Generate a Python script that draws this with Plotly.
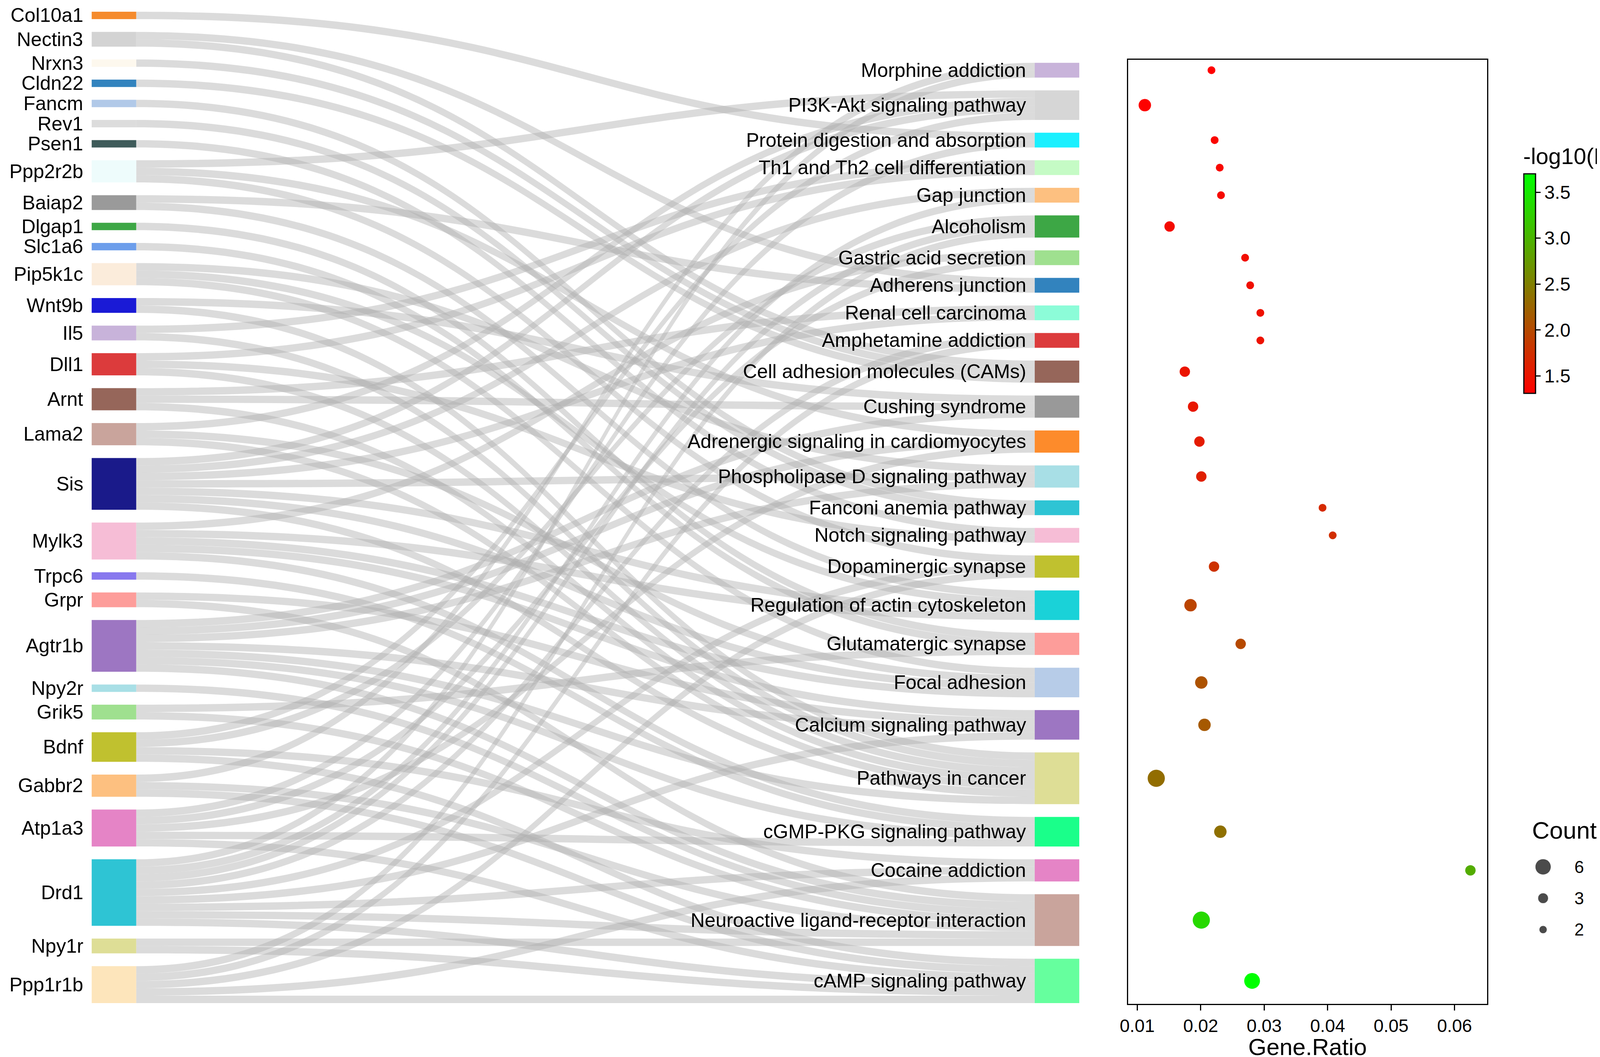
import plotly.graph_objects as go

# ---- data ----
genes = ['Col10a1', 'Nectin3', 'Nrxn3', 'Cldn22', 'Fancm', 'Rev1', 'Psen1', 'Ppp2r2b',
         'Baiap2', 'Dlgap1', 'Slc1a6', 'Pip5k1c', 'Wnt9b', 'Il5', 'Dll1', 'Arnt', 'Lama2',
         'Sis', 'Mylk3', 'Trpc6', 'Grpr', 'Agtr1b', 'Npy2r', 'Grik5', 'Bdnf', 'Gabbr2',
         'Atp1a3', 'Drd1', 'Npy1r', 'Ppp1r1b']
gene_colors = ['#f58b2d', '#d3d3d3', '#fdf8ee', '#3283be', '#b1c9e8', '#dcdcdc', '#3e5b5a', '#eefcfc',
               '#9a9a9a', '#3da745', '#6d9eeb', '#fbecdb', '#1a1ad6', '#c8b3da', '#dc3b3c', '#96665a',
               '#c9a49c', '#1a1a8a', '#f6bdd6', '#8878ee', '#fd9d9a', '#9d76c2', '#a8dfe6', '#9fe08f',
               '#c0c12f', '#fdc080', '#e584c6', '#2ec4d4', '#dede96', '#fde5bb']

pathways = ['Morphine addiction', 'PI3K-Akt signaling pathway', 'Protein digestion and absorption',
            'Th1 and Th2 cell differentiation', 'Gap junction', 'Alcoholism', 'Gastric acid secretion',
            'Adherens junction', 'Renal cell carcinoma', 'Amphetamine addiction',
            'Cell adhesion molecules (CAMs)', 'Cushing syndrome', 'Adrenergic signaling in cardiomyocytes',
            'Phospholipase D signaling pathway', 'Fanconi anemia pathway', 'Notch signaling pathway',
            'Dopaminergic synapse', 'Regulation of actin cytoskeleton', 'Glutamatergic synapse',
            'Focal adhesion', 'Calcium signaling pathway', 'Pathways in cancer',
            'cGMP-PKG signaling pathway', 'Cocaine addiction', 'Neuroactive ligand-receptor interaction',
            'cAMP signaling pathway']
pathway_colors = ['#c8b3da', '#d6d6d6', '#1af0ff', '#c5fbc5', '#fdc080', '#3da745', '#9fe08f',
                  '#3283be', '#8cfcd8', '#dc3b3c', '#96665a', '#999999', '#fd8b2b', '#a8dfe6',
                  '#2ec4d4', '#f6bdd6', '#c0c12f', '#1ad2d8', '#fd9d9a', '#b7cce8', '#9d76c2',
                  '#dede96', '#1aff8a', '#e584c6', '#c9a49c', '#66ff9e']

gene_ratio = [0.0217, 0.0112, 0.0222, 0.0230, 0.0232, 0.0151, 0.0270, 0.0278, 0.0294, 0.0294,
              0.0175, 0.0188, 0.0198, 0.0201, 0.0392, 0.0408, 0.0221, 0.0184, 0.0263, 0.0201,
              0.0206, 0.0130, 0.0231, 0.0625, 0.0201, 0.0281]
neg_log10_p = [1.31, 1.33, 1.36, 1.38, 1.39, 1.41, 1.43, 1.45, 1.47, 1.48,
               1.50, 1.53, 1.56, 1.60, 1.70, 1.74, 1.78, 1.95, 1.99, 2.08,
               2.14, 2.33, 2.36, 2.92, 3.34, 3.70]

# genes mapped to each pathway (same order as pathways)
pathway_genes = [
    ['Gabbr2', 'Drd1'],
    ['Ppp2r2b', 'Lama2', 'Sis', 'Bdnf'],
    ['Col10a1', 'Atp1a3'],
    ['Il5', 'Dll1'],
    ['Sis', 'Drd1'],
    ['Bdnf', 'Drd1', 'Ppp1r1b'],
    ['Mylk3', 'Atp1a3'],
    ['Nectin3', 'Baiap2'],
    ['Arnt', 'Sis'],
    ['Drd1', 'Ppp1r1b'],
    ['Nectin3', 'Nrxn3', 'Cldn22'],
    ['Wnt9b', 'Arnt', 'Agtr1b'],
    ['Ppp2r2b', 'Agtr1b', 'Atp1a3'],
    ['Pip5k1c', 'Sis', 'Agtr1b'],
    ['Fancm', 'Rev1'],
    ['Psen1', 'Dll1'],
    ['Ppp2r2b', 'Drd1', 'Ppp1r1b'],
    ['Baiap2', 'Pip5k1c', 'Sis', 'Mylk3'],
    ['Dlgap1', 'Slc1a6', 'Grik5'],
    ['Pip5k1c', 'Lama2', 'Sis', 'Mylk3'],
    ['Mylk3', 'Grpr', 'Agtr1b', 'Drd1'],
    ['Wnt9b', 'Il5', 'Dll1', 'Arnt', 'Lama2', 'Sis', 'Agtr1b'],
    ['Mylk3', 'Trpc6', 'Agtr1b', 'Atp1a3'],
    ['Bdnf', 'Drd1', 'Ppp1r1b'],
    ['Grpr', 'Agtr1b', 'Npy2r', 'Grik5', 'Gabbr2', 'Drd1', 'Npy1r'],
    ['Bdnf', 'Gabbr2', 'Atp1a3', 'Drd1', 'Npy1r', 'Ppp1r1b'],
]

count_legend = [6, 3, 2]
ratio_ticks = [0.01, 0.02, 0.03, 0.04, 0.05, 0.06]
p_ticks = [1.5, 2.0, 2.5, 3.0, 3.5]

# ---- layout (pixels of the 4317x2706 page) ----
W, H = 4317, 2706
SK_LEFT, SK_RIGHT, SK_TOP, SK_BOTTOM = 207, 2747, 22, 2560
NODE_W = 114
NODE_PAD = 32.7
BOX_L, BOX_R, BOX_T, BOX_B = 2873, 3796, 145, 2562
FONT = 'Liberation Sans, Arial, sans-serif'

src, tgt, val = [], [], []
for j, gl in enumerate(pathway_genes):
    for g in gl:
        src.append(genes.index(g))
        tgt.append(len(genes) + j)
        val.append(1)

gene_counts = [src.count(i) for i in range(len(genes))]
path_counts = [len(gl) for gl in pathway_genes]

span = SK_BOTTOM - SK_TOP
unit = (span - (len(genes) - 1) * NODE_PAD) / sum(gene_counts)


def centers(counts, start):
    out = []
    y = start
    for c in counts:
        out.append(y + c * unit / 2)
        y += c * unit + NODE_PAD
    return out


gene_y = centers(gene_counts, SK_TOP)
path_start = SK_BOTTOM - (sum(path_counts) * unit + (len(pathways) - 1) * NODE_PAD)
path_y = centers(path_counts, path_start)

sk_w = SK_RIGHT - SK_LEFT
node_x = [NODE_W / 2 / sk_w] * len(genes) + [1 - NODE_W / 2 / sk_w] * len(pathways)
node_y = [(y - SK_TOP) / span for y in gene_y + path_y]


def dot_size(c):
    return (400 + 307 * (c - 2)) ** 0.5


fig = go.Figure()

fig.add_trace(go.Sankey(
    domain=dict(x=[SK_LEFT / W, SK_RIGHT / W], y=[1 - SK_BOTTOM / H, 1 - SK_TOP / H]),
    arrangement='fixed',
    node=dict(
        label=[''] * (len(genes) + len(pathways)),
        customdata=genes + pathways,
        hovertemplate='%{customdata}<extra></extra>',
        color=gene_colors + pathway_colors,
        thickness=NODE_W,
        pad=NODE_PAD,
        line=dict(width=0),
        x=node_x,
        y=node_y,
    ),
    link=dict(source=src, target=tgt, value=val, color='rgba(175,175,175,0.45)'),
))

# node labels, drawn above the links
for name, y in zip(genes, gene_y):
    fig.add_annotation(text=name, x=(SK_LEFT - 20) / W, y=1 - y / H, xref='paper', yref='paper',
                       xanchor='right', yanchor='middle', showarrow=False,
                       font=dict(size=50, color='black', family=FONT))
for name, y in zip(pathways, path_y):
    fig.add_annotation(text=name, x=(SK_RIGHT - NODE_W - 20) / W, y=1 - y / H, xref='paper', yref='paper',
                       xanchor='right', yanchor='middle', showarrow=False,
                       font=dict(size=50, color='black', family=FONT))

# dot plot
fig.add_trace(go.Scatter(
    x=gene_ratio, y=path_y, mode='markers', text=pathways,
    marker=dict(
        size=[dot_size(c) for c in path_counts],
        color=neg_log10_p,
        colorscale=[[0, '#ff0000'], [1, '#00ff00']],
        cmin=min(neg_log10_p), cmax=max(neg_log10_p),
        line=dict(width=0),
        opacity=1,
        colorbar=dict(
            title=dict(text='-log10(Pvalue)', side='top', font=dict(size=58, family=FONT)),
            x=3891 / W, xanchor='left',
            y=1 - 999 / H, yanchor='bottom',
            len=632 / H, lenmode='fraction',
            thickness=30, thicknessmode='pixels',
            xpad=0, ypad=0,
            outlinewidth=3, outlinecolor='black',
            ticks='outside', ticklen=12, tickwidth=3, tickcolor='black',
            tickvals=p_ticks, ticktext=['%.1f' % v for v in p_ticks],
            tickfont=dict(size=48, family=FONT, color='black'),
        ),
    ),
    xaxis='x', yaxis='y'))

# size legend
fig.add_trace(go.Scatter(
    x=[0] * len(count_legend), y=[str(c) for c in count_legend], mode='markers',
    marker=dict(size=[dot_size(c) for c in count_legend], color='black'),
    xaxis='x3', yaxis='y3', hoverinfo='skip'))

fig.add_annotation(text='Count', x=3910 / W, y=1 - 2117 / H, xref='paper', yref='paper',
                   xanchor='left', yanchor='middle', showarrow=False,
                   font=dict(size=62, family=FONT, color='black'))

fig.update_layout(
    width=W, height=H,
    margin=dict(l=0, r=0, t=0, b=0),
    paper_bgcolor='white', plot_bgcolor='rgba(0,0,0,0)',
    showlegend=False,
    font=dict(family=FONT, color='black'),
    xaxis=dict(domain=[BOX_L / W, BOX_R / W], range=[0.00857, 0.0651], anchor='y',
               tickvals=ratio_ticks, tickformat='.2f',
               showline=True, mirror=True, linecolor='black', linewidth=3,
               ticks='outside', ticklen=14, tickwidth=3, tickcolor='black',
               showgrid=False, zeroline=False,
               tickfont=dict(size=46),
               title=dict(text='Gene.Ratio', font=dict(size=60), standoff=0)),
    yaxis=dict(domain=[1 - BOX_B / H, 1 - BOX_T / H], range=[BOX_B, BOX_T], anchor='x',
               showticklabels=False, ticks='', showline=True, mirror=True,
               linecolor='black', linewidth=3, showgrid=False, zeroline=False),
    xaxis3=dict(domain=[3900 / W, 3981 / W], range=[-1, 1], anchor='y3', visible=False),
    yaxis3=dict(domain=[1 - 2412 / H, 1 - 2171 / H], anchor='x3', side='right',
                type='category', categoryorder='array', categoryarray=['2', '3', '6'],
                range=[-0.5, 2.5], ticks='outside', ticklen=30, tickcolor='rgba(0,0,0,0)',
                showline=False, showgrid=False, zeroline=False,
                tickfont=dict(size=44)),
)

fig.write_html('out.html')
